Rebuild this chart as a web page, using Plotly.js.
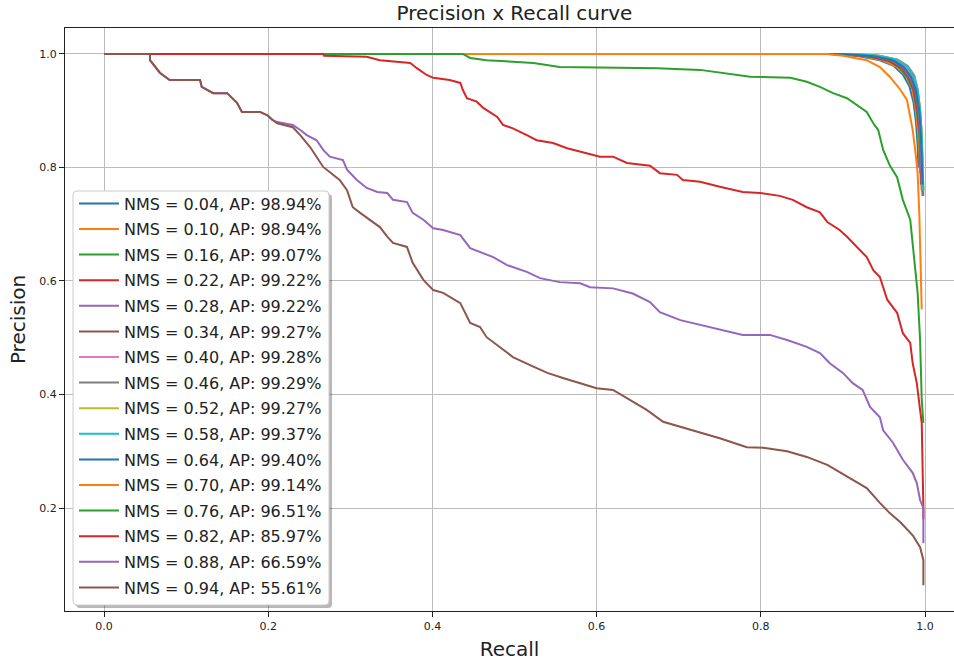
<!DOCTYPE html>
<html>
<head>
<meta charset="utf-8">
<script src="https://cdn.plot.ly/plotly-3.0.1.min.js"></script>
<style>html,body{margin:0;padding:0;background:#fff;overflow:hidden;}</style>
</head>
<body>
<div id="chart" style="width:954px;height:663px;"></div>
<script>
// ---- Data ----
const nmsLabels = ['0.04','0.10','0.16','0.22','0.28','0.34','0.40','0.46','0.52','0.58','0.64','0.70','0.76','0.82','0.88','0.94'];
const apLabels  = ['98.94','98.94','99.07','99.22','99.22','99.27','99.28','99.29','99.27','99.37','99.40','99.14','96.51','85.97','66.59','55.61'];
const seriesColors = ['#1f77b4','#ff7f0e','#2ca02c','#d62728','#9467bd','#8c564b','#e377c2','#7f7f7f','#bcbd22','#17becf',
                      '#1f77b4','#ff7f0e','#2ca02c','#d62728','#9467bd','#8c564b'];

const rec_004 = [0, 0.885, 0.92, 0.945, 0.962, 0.973, 0.981, 0.986, 0.989, 0.991, 0.992];
const prec_004 = [1, 1, 0.996, 0.989, 0.979, 0.964, 0.943, 0.915, 0.88, 0.84, 0.80];
const rec_010 = [0, 0.89, 0.925, 0.95, 0.966, 0.977, 0.984, 0.988, 0.991, 0.993, 0.994];
const prec_010 = [1, 1, 0.996, 0.988, 0.977, 0.961, 0.94, 0.91, 0.87, 0.83, 0.79];
const rec_016 = [0, 0.895, 0.93, 0.955, 0.969, 0.979, 0.986, 0.99, 0.993, 0.994, 0.995];
const prec_016 = [1, 1, 0.996, 0.988, 0.976, 0.958, 0.935, 0.9, 0.86, 0.81, 0.77];
const rec_022 = [0, 0.9, 0.935, 0.958, 0.972, 0.981, 0.987, 0.991, 0.994, 0.995, 0.996];
const prec_022 = [1, 1, 0.995, 0.987, 0.975, 0.957, 0.933, 0.898, 0.855, 0.8, 0.76];
const rec_028 = [0, 0.9, 0.937, 0.96, 0.973, 0.982, 0.988, 0.992, 0.994, 0.995, 0.996];
const prec_028 = [1, 1, 0.996, 0.988, 0.976, 0.958, 0.934, 0.9, 0.857, 0.81, 0.77];
const rec_034 = [0, 0.902, 0.94, 0.962, 0.975, 0.984, 0.989, 0.993, 0.995, 0.996, 0.997];
const prec_034 = [1, 1, 0.996, 0.988, 0.976, 0.958, 0.933, 0.897, 0.85, 0.8, 0.75];
const rec_040 = [0, 0.905, 0.942, 0.964, 0.977, 0.985, 0.99, 0.993, 0.995, 0.996, 0.997];
const prec_040 = [1, 1, 0.997, 0.99, 0.978, 0.96, 0.935, 0.9, 0.855, 0.8, 0.76];
const rec_046 = [0, 0.91, 0.945, 0.967, 0.979, 0.987, 0.991, 0.994, 0.996, 0.997, 0.998];
const prec_046 = [1, 1, 0.997, 0.99, 0.979, 0.962, 0.938, 0.903, 0.86, 0.8, 0.75];
const rec_052 = [0, 0.908, 0.944, 0.966, 0.978, 0.986, 0.991, 0.994, 0.996, 0.997, 0.998];
const prec_052 = [1, 1, 0.997, 0.99, 0.978, 0.961, 0.937, 0.902, 0.858, 0.8, 0.76];
const rec_058 = [0, 0.905, 0.943, 0.965, 0.978, 0.986, 0.991, 0.994, 0.996, 0.997, 0.998];
const prec_058 = [1, 1, 0.997, 0.99, 0.978, 0.961, 0.936, 0.9, 0.855, 0.8, 0.76];
const rec_064 = [0, 0.9, 0.938, 0.961, 0.974, 0.983, 0.989, 0.993, 0.995, 0.996, 0.997];
const prec_064 = [1, 1, 0.996, 0.989, 0.977, 0.96, 0.936, 0.9, 0.855, 0.8, 0.77];
const rec_070 = [0, 0.88, 0.90, 0.915, 0.929, 0.945, 0.957, 0.970, 0.978, 0.982, 0.985, 0.988, 0.991, 0.993, 0.994, 0.995, 0.996];
const prec_070 = [1, 1, 0.997, 0.993, 0.989, 0.977, 0.96, 0.937, 0.919, 0.889, 0.866, 0.831, 0.79, 0.72, 0.66, 0.6, 0.55];
const rec_076 = [0, 0.437, 0.446, 0.466, 0.503, 0.523, 0.555, 0.674, 0.726, 0.787, 0.836, 0.856, 0.872, 0.888, 0.905, 0.921, 0.929, 0.937, 0.943, 0.949, 0.957, 0.966, 0.973, 0.982, 0.985, 0.990, 0.991, 0.994, 0.996, 0.998];
const prec_076 = [1, 1, 0.993, 0.989, 0.986, 0.984, 0.977, 0.975, 0.972, 0.96, 0.958, 0.951, 0.942, 0.931, 0.922, 0.907, 0.898, 0.878, 0.866, 0.831, 0.804, 0.783, 0.743, 0.708, 0.667, 0.602, 0.579, 0.496, 0.39, 0.35];
const rec_082 = [0, 0.267, 0.268, 0.320, 0.336, 0.357, 0.373, 0.381, 0.393, 0.401, 0.421, 0.434, 0.437, 0.442, 0.454, 0.462, 0.470, 0.479, 0.486, 0.498, 0.515, 0.527, 0.547, 0.564, 0.583, 0.604, 0.620, 0.637, 0.665, 0.677, 0.698, 0.705, 0.726, 0.750, 0.778, 0.799, 0.823, 0.839, 0.856, 0.872, 0.881, 0.896, 0.905, 0.921, 0.929, 0.937, 0.945, 0.954, 0.966, 0.973, 0.982, 0.985, 0.990, 0.994, 0.996, 0.998, 0.998];
const prec_082 = [1, 1, 0.997, 0.995, 0.989, 0.986, 0.984, 0.975, 0.963, 0.958, 0.954, 0.949, 0.937, 0.922, 0.916, 0.905, 0.898, 0.889, 0.875, 0.869, 0.857, 0.848, 0.843, 0.834, 0.827, 0.819, 0.819, 0.808, 0.803, 0.790, 0.787, 0.778, 0.775, 0.766, 0.757, 0.755, 0.75, 0.743, 0.73, 0.721, 0.704, 0.69, 0.678, 0.655, 0.642, 0.619, 0.607, 0.567, 0.544, 0.508, 0.491, 0.455, 0.42, 0.373, 0.35, 0.2, 0.18];
const rec_088 = [0, 0.056, 0.056, 0.062, 0.068, 0.080, 0.117, 0.119, 0.133, 0.150, 0.162, 0.168, 0.190, 0.199, 0.205, 0.211, 0.230, 0.239, 0.247, 0.259, 0.267, 0.275, 0.291, 0.296, 0.308, 0.320, 0.333, 0.345, 0.352, 0.369, 0.376, 0.389, 0.401, 0.413, 0.434, 0.446, 0.458, 0.474, 0.491, 0.515, 0.531, 0.555, 0.580, 0.592, 0.620, 0.644, 0.665, 0.677, 0.702, 0.742, 0.778, 0.811, 0.832, 0.856, 0.872, 0.884, 0.900, 0.912, 0.924, 0.933, 0.945, 0.949, 0.961, 0.973, 0.985, 0.990, 0.994, 0.998, 0.998];
const prec_088 = [1, 1, 0.989, 0.979, 0.967, 0.954, 0.954, 0.942, 0.931, 0.931, 0.914, 0.898, 0.898, 0.892, 0.884, 0.88, 0.875, 0.866, 0.857, 0.848, 0.831, 0.819, 0.813, 0.796, 0.778, 0.764, 0.757, 0.755, 0.743, 0.739, 0.720, 0.708, 0.693, 0.690, 0.681, 0.658, 0.651, 0.642, 0.628, 0.616, 0.605, 0.598, 0.596, 0.589, 0.587, 0.578, 0.563, 0.545, 0.531, 0.517, 0.505, 0.505, 0.496, 0.484, 0.473, 0.455, 0.438, 0.420, 0.408, 0.378, 0.360, 0.337, 0.315, 0.285, 0.262, 0.244, 0.214, 0.2, 0.138];
const rec_094 = [0, 0.056, 0.056, 0.062, 0.068, 0.080, 0.117, 0.119, 0.133, 0.150, 0.162, 0.168, 0.190, 0.199, 0.205, 0.211, 0.230, 0.239, 0.247, 0.251, 0.267, 0.275, 0.287, 0.296, 0.303, 0.312, 0.324, 0.336, 0.345, 0.352, 0.369, 0.376, 0.389, 0.401, 0.413, 0.434, 0.446, 0.458, 0.466, 0.482, 0.498, 0.523, 0.540, 0.559, 0.580, 0.600, 0.620, 0.641, 0.661, 0.681, 0.702, 0.722, 0.750, 0.783, 0.803, 0.832, 0.856, 0.881, 0.896, 0.912, 0.929, 0.945, 0.957, 0.970, 0.985, 0.994, 0.998, 0.998];
const prec_094 = [1, 1, 0.989, 0.979, 0.967, 0.954, 0.954, 0.942, 0.931, 0.931, 0.914, 0.898, 0.898, 0.892, 0.884, 0.878, 0.871, 0.857, 0.843, 0.836, 0.801, 0.792, 0.778, 0.760, 0.730, 0.72, 0.708, 0.695, 0.678, 0.667, 0.66, 0.632, 0.602, 0.584, 0.579, 0.561, 0.526, 0.519, 0.501, 0.484, 0.466, 0.449, 0.438, 0.429, 0.420, 0.411, 0.408, 0.390, 0.373, 0.352, 0.343, 0.334, 0.323, 0.307, 0.306, 0.300, 0.290, 0.276, 0.263, 0.249, 0.235, 0.209, 0.191, 0.175, 0.152, 0.131, 0.108, 0.064];

const recallSeries = [rec_004, rec_010, rec_016, rec_022, rec_028, rec_034, rec_040, rec_046, rec_052, rec_058, rec_064, rec_070, rec_076, rec_082, rec_088, rec_094];
const precisionSeries = [prec_004, prec_010, prec_016, prec_022, prec_028, prec_034, prec_040, prec_046, prec_052, prec_058, prec_064, prec_070, prec_076, prec_082, prec_088, prec_094];

const FONT = 'DejaVu Sans, sans-serif';
const traces = nmsLabels.map((nms, i) => ({
  type: 'scatter',
  mode: 'lines',
  x: recallSeries[i],
  y: precisionSeries[i],
  name: 'NMS = ' + nms + ', AP: ' + apLabels[i] + '%',
  legendgroup: 'g' + i,
  line: {color: seriesColors[i], width: 2},
  hoverinfo: 'skip'
}));

// legend frame (rounded box + shadow) drawn as paper-space shapes behind the legend entries
const M = {l: 65, r: 0, t: 28, b: 52};
const W = 954, H = 663;
const pw = W - M.l - M.r, ph = H - M.t - M.b;
const px2x = p => (p - M.l) / pw;
const py2y = p => (H - M.b - p) / ph;
function roundedBox(x0, y0, x1, y1, r) {
  const X = px2x, Y = py2y;
  return 'M' + X(x0 + r) + ',' + Y(y0) +
    ' L' + X(x1 - r) + ',' + Y(y0) + ' Q' + X(x1) + ',' + Y(y0) + ' ' + X(x1) + ',' + Y(y0 + r) +
    ' L' + X(x1) + ',' + Y(y1 - r) + ' Q' + X(x1) + ',' + Y(y1) + ' ' + X(x1 - r) + ',' + Y(y1) +
    ' L' + X(x0 + r) + ',' + Y(y1) + ' Q' + X(x0) + ',' + Y(y1) + ' ' + X(x0) + ',' + Y(y1 - r) +
    ' L' + X(x0) + ',' + Y(y0 + r) + ' Q' + X(x0) + ',' + Y(y0) + ' ' + X(x0 + r) + ',' + Y(y0) + ' Z';
}

const layout = {
  width: W, height: H,
  margin: M,
  paper_bgcolor: '#ffffff',
  plot_bgcolor: '#ffffff',
  showlegend: true,
  title: {
    text: 'Precision x Recall curve',
    font: {family: FONT, size: 20, color: '#222'},
    xref: 'paper', x: 0.5056, xanchor: 'center',
    yref: 'container', y: 0.980, yanchor: 'middle'
  },
  xaxis: {
    range: [-0.0475, 1.0353],
    tick0: 0, dtick: 0.2, tickformat: '.1f',
    showgrid: true, gridcolor: '#bcbcbc', gridwidth: 1,
    zeroline: false,
    showline: true, linecolor: '#222', linewidth: 1, mirror: true,
    ticks: 'outside', ticklen: 5, tickcolor: '#222', tickwidth: 1,
    tickfont: {family: FONT, size: 11, color: '#222'},
    title: {text: 'Recall', font: {family: FONT, size: 20, color: '#222'}, standoff: 9}
  },
  yaxis: {
    range: [0.0185, 1.0458],
    tick0: 0.2, dtick: 0.2, tickformat: '.1f',
    showgrid: true, gridcolor: '#bcbcbc', gridwidth: 1,
    zeroline: false,
    showline: true, linecolor: '#222', linewidth: 1, mirror: false,
    ticks: 'outside', ticklen: 5, tickcolor: '#222', tickwidth: 1,
    tickfont: {family: FONT, size: 11, color: '#222'},
    title: {text: 'Precision', font: {family: FONT, size: 20, color: '#222'}, standoff: 8}
  },
  legend: {
    x: px2x(74), y: py2y(186.5), xanchor: 'left', yanchor: 'top',
    bgcolor: 'rgba(0,0,0,0)', bordercolor: 'rgba(0,0,0,0)', borderwidth: 0,
    font: {family: FONT, size: 16, color: '#222'},
    tracegroupgap: 1.8, itemwidth: 40
  },
  shapes: [
    {type: 'path', xref: 'paper', yref: 'paper', layer: 'above',
     path: roundedBox(76, 194, 332, 608, 4), fillcolor: 'rgba(0,0,0,0.28)', line: {width: 0}},
    {type: 'path', xref: 'paper', yref: 'paper', layer: 'above',
     path: roundedBox(73, 191, 329, 605, 4), fillcolor: '#ffffff', line: {color: '#cccccc', width: 1}}
  ]
};

Plotly.newPlot('chart', traces, layout, {displayModeBar: false, staticPlot: true});
</script>
</body>
</html>
